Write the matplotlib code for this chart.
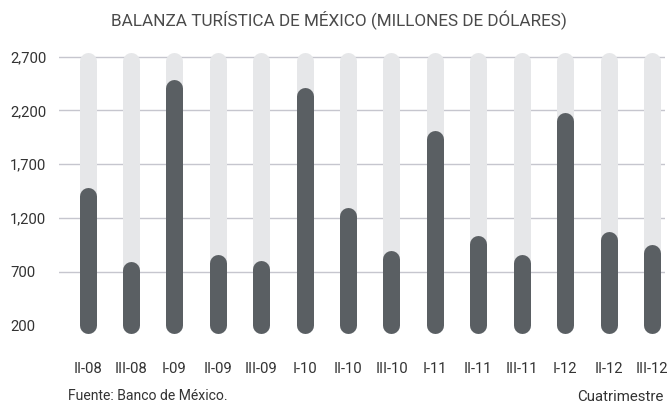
import matplotlib
matplotlib.use('Agg')
import matplotlib.pyplot as plt


periods = ['II-08', 'III-08', 'I-09', 'II-09', 'III-09', 'I-10', 'II-10',
           'III-10', 'I-11', 'II-11', 'III-11', 'I-12', 'II-12', 'III-12']
balance = [1480, 794, 2489, 862, 806, 2411, 1297,
           899, 2013, 1038, 862, 2180, 1069, 955]
y_ticks = [200, 700, 1200, 1700, 2200, 2700]
y_labels = ['200', '700', '1,200', '1,700', '2,200', '2,700']
track_max = 2700

DARK = '#5a5f63'
TRACK = '#e6e7e9'
GRID = '#c6c6ce'
TEXT = '#333333'
FONT = 'Roboto'

plt.rcParams['font.family'] = [FONT, 'DejaVu Sans']


def main():
    fig = plt.figure(figsize=(6.69, 4.04), dpi=100)
    ax = fig.add_axes([59 / 669, 1 - 334 / 404, 606 / 669, 286 / 404])
    ax.set_xlim(-0.657, 13.3)
    ax.set_ylim(121, 2779)

    # bar width in px -> points, and half of it (the round cap) in data units
    bar_px = 17
    lw = bar_px * 72 / fig.dpi
    ax_h_px = ax.get_position().height * fig.get_figheight() * fig.dpi
    cap = (bar_px / 2) * (2779 - 121) / ax_h_px
    extra = 4 * (2779 - 121) / ax_h_px

    for i, v in enumerate(balance):
        ax.plot([i, i], [200, track_max - cap + extra], color=TRACK, lw=lw,
                solid_capstyle='round', zorder=2)
        ax.plot([i, i], [200, v - cap], color=DARK, lw=lw,
                solid_capstyle='round', zorder=3)

    ax.set_yticks(y_ticks)
    ax.set_yticklabels(y_labels)
    ax.set_xticks(range(len(periods)))
    ax.set_xticklabels(periods)
    ax.yaxis.grid(True, color=GRID, lw=1.0, zorder=1)
    ax.set_axisbelow(True)
    # no gridline at the baseline
    ax.yaxis.get_gridlines()[0].set_visible(False)
    for s in ax.spines.values():
        s.set_visible(False)
    ax.tick_params(axis='both', length=0, labelsize=10.7, labelcolor=TEXT)
    ax.tick_params(axis='y', pad=35.3)
    for t in ax.get_yticklabels():
        t.set_horizontalalignment('left')
    ax.tick_params(axis='x', pad=20)

    fig.text(339 / 669, 1 - 20 / 404, 'BALANZA TURÍSTICA DE MÉXICO (MILLONES DE DÓLARES)',
             ha='center', va='center', fontsize=12.3, color='#4a4a4a')
    fig.text(68 / 669, 1 - 396 / 404, 'Fuente: Banco de México.',
             ha='left', va='center', fontsize=10.1, color=TEXT)
    fig.text(663 / 669, 1 - 397 / 404, 'Cuatrimestre',
             ha='right', va='center', fontsize=10.8, color=TEXT)

    fig.savefig('out.png', dpi=100)


if __name__ == '__main__':
    main()
